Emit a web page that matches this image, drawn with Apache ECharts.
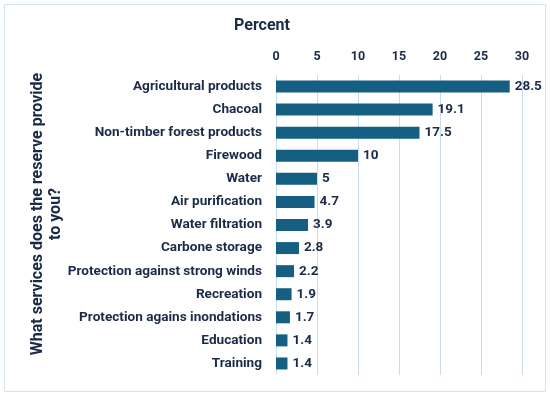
<!DOCTYPE html>
<html><head><meta charset="utf-8">
<script src="https://cdn.jsdelivr.net/npm/echarts@6/dist/echarts.min.js"></script>
<style>html,body{margin:0;padding:0;background:#fff}#c{width:550px;height:397px}</style>
</head><body><div id="c"></div>
<script>
const categories = ["Agricultural products","Chacoal","Non-timber forest products","Firewood","Water","Air purification","Water filtration","Carbone storage","Protection against strong winds","Recreation","Protection agains inondations","Education","Training"];
const values = [28.5,19.1,17.5,10,5,4.7,3.9,2.8,2.2,1.9,1.7,1.4,1.4];
const xTitle = "Percent";
const yTitle = "What services does the reserve provide\nto you?";
const FONT = "Roboto";
const TXT = "#1b2a47";
const chart = echarts.init(document.getElementById('c'));
chart.setOption({
  animation:false,
  textStyle:{fontFamily:FONT},
  grid:{left:276,right:28,top:75,bottom:22},
  graphic:[
    {type:'rect',shape:{x:4.5,y:4.5,width:541,height:387},style:{fill:'none',stroke:'#d4e3f1',lineWidth:1}},
    {type:'text',x:262,y:26,style:{text:xTitle,fill:TXT,font:'bold 16px '+FONT,textAlign:'center',textVerticalAlign:'middle'}},
    {type:'text',x:47,y:214,rotation:Math.PI/2,style:{text:yTitle,fill:TXT,font:'bold 16px '+FONT,textAlign:'center',textVerticalAlign:'middle',lineHeight:18}}
  ],
  xAxis:{type:'value',position:'top',min:0,max:30,interval:5,
    axisLine:{show:false},axisTick:{show:false},
    axisLabel:{margin:12,fontSize:12.5,fontWeight:'bold',color:TXT,fontFamily:FONT},
    splitLine:{lineStyle:{color:'#c9dcef',width:1}}},
  yAxis:{type:'category',data:categories,inverse:true,
    axisLine:{show:false},axisTick:{show:false},
    axisLabel:{margin:14,fontSize:13.6,fontWeight:'bold',color:TXT,fontFamily:FONT}},
  series:[{type:'bar',data:values,barCategoryGap:'48%',
    itemStyle:{color:'#156082'},
    label:{show:true,position:'right',distance:5,fontSize:13.5,fontWeight:'bold',color:TXT,fontFamily:FONT}}]
});
</script></body></html>
